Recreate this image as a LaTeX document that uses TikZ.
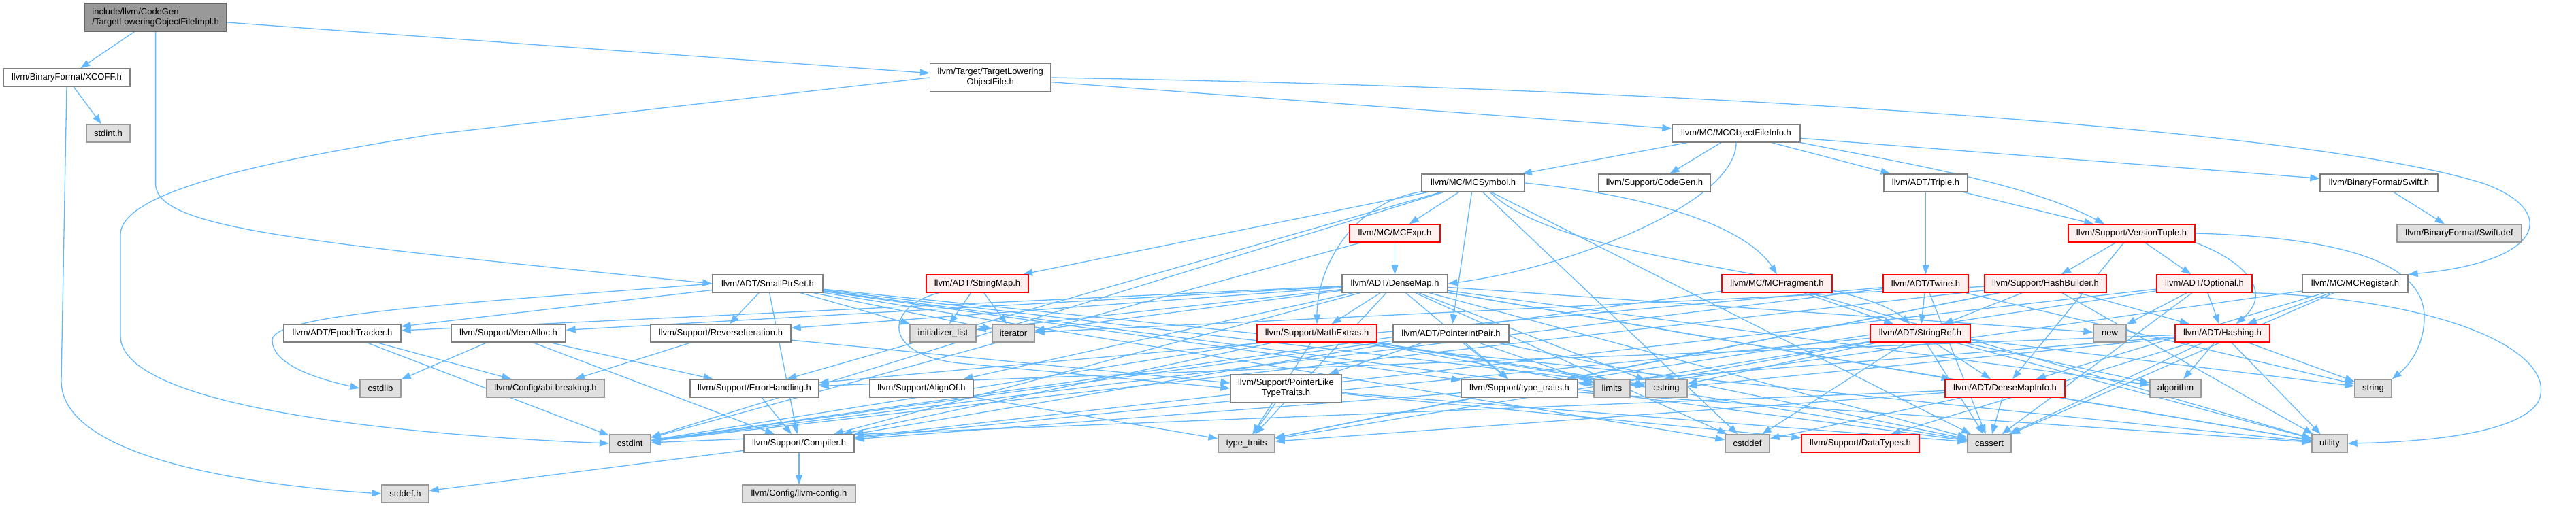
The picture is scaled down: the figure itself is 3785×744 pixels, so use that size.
\documentclass[tikz,border=0pt]{standalone}
\usepackage{fontspec}
\setmainfont{Liberation Sans}
\usetikzlibrary{arrows.meta}
\definecolor{edgec}{HTML}{63B8FF}
\definecolor{wbord}{HTML}{808080}
\definecolor{rbord}{HTML}{FF0000}
\definecolor{rfill}{HTML}{FFF0F0}
\definecolor{gbord}{HTML}{999999}
\definecolor{gfill}{HTML}{E0E0E0}
\definecolor{tbord}{HTML}{666666}
\definecolor{tfill}{HTML}{999999}
\pgfdeclarelayer{bg}
\pgfsetlayers{bg,main}
\begin{document}
\begin{tikzpicture}[x=1pt,y=-1pt,
  box/.style={draw, line width=1.3pt, minimum height=26pt, inner sep=1pt, font=\fontsize{13}{15}\selectfont, text=black},
  wn/.style={box, draw=wbord, fill=white},
  rn/.style={box, draw=rbord, fill=rfill},
  gn/.style={box, draw=gbord, fill=gfill},
  tn/.style={box, draw=tbord, fill=tfill},
  e/.style={draw=edgec, line width=1.3pt, -{Triangle[length=14pt,width=10pt]}}]
\useasboundingbox (0,0) rectangle (3785,744);
% row 0
\node[tn, minimum width=208pt, minimum height=41pt, align=left] (top) at (228.6,25.5) {include/llvm/CodeGen\\/TargetLoweringObjectFileImpl.h};
% row 1
\node[wn, minimum width=186pt] (xcoff) at (98,114) {llvm/BinaryFormat/XCOFF.h};
\node[wn, minimum width=177.5pt, minimum height=41pt, align=center] (tlof) at (1455.25,114) {llvm/Target/TargetLowering\\ObjectFile.h};
% row 2
\node[gn, minimum width=64pt] (stdint) at (159,196) {stdint.h};
\node[wn, minimum width=188pt] (mcofi) at (2551,196) {llvm/MC/MCObjectFileInfo.h};
% row 3
\node[wn, minimum width=151pt] (mcsymbol) at (2164.5,269) {llvm/MC/MCSymbol.h};
\node[wn, minimum width=165pt] (codegen) at (2431,269) {llvm/Support/CodeGen.h};
\node[wn, minimum width=123pt] (triple) at (2829.5,269) {llvm/ADT/Triple.h};
\node[wn, minimum width=173pt] (swifth) at (3495.5,269) {llvm/BinaryFormat/Swift.h};
% row 4
\node[rn, minimum width=133pt] (mcexpr) at (2049.5,343) {llvm/MC/MCExpr.h};
\node[rn, minimum width=186pt] (versiontuple) at (3132,343) {llvm/Support/VersionTuple.h};
\node[gn, minimum width=183pt] (swiftdef) at (3613.5,343) {llvm/BinaryFormat/Swift.def};
% row 5
\node[wn, minimum width=162pt] (smallptrset) at (1128,417) {llvm/ADT/SmallPtrSet.h};
\node[rn, minimum width=150pt] (stringmap) at (1436,417) {llvm/ADT/StringMap.h};
\node[wn, minimum width=155pt] (densemap) at (2049.5,417) {llvm/ADT/DenseMap.h};
\node[rn, minimum width=162pt] (mcfragment) at (2611,417) {llvm/MC/MCFragment.h};
\node[rn, minimum width=125pt] (twine) at (2829.5,417) {llvm/ADT/Twine.h};
\node[rn, minimum width=179pt] (hashbuilder) at (3005.5,417) {llvm/Support/HashBuilder.h};
\node[rn, minimum width=140pt] (optional) at (3239,417) {llvm/ADT/Optional.h};
\node[wn, minimum width=155pt] (mcregister) at (3460.5,417) {llvm/MC/MCRegister.h};
% row 6
\node[wn, minimum width=172pt] (epoch) at (503,490) {llvm/ADT/EpochTracker.h};
\node[wn, minimum width=168pt] (memalloc) at (747,490) {llvm/Support/MemAlloc.h};
\node[wn, minimum width=206pt] (reverseit) at (1059,490) {llvm/Support/ReverseIteration.h};
\node[gn, minimum width=97pt] (initlist) at (1385.5,490) {initializer\_list};
\node[gn, minimum width=62pt] (iterator) at (1489,490) {iterator};
\node[rn, minimum width=176pt] (mathextras) at (1935,490) {llvm/Support/MathExtras.h};
\node[wn, minimum width=170pt] (pointerintpair) at (2132,490) {llvm/ADT/PointerIntPair.h};
\node[rn, minimum width=147pt] (stringref) at (2821.5,490) {llvm/ADT/StringRef.h};
\node[gn, minimum width=48pt] (new) at (3100,490) {new};
\node[rn, minimum width=139pt] (hashing) at (3265.5,490) {llvm/ADT/Hashing.h};
% row 7
\node[gn, minimum width=60pt] (cstdlib) at (559,571) {cstdlib};
\node[gn, minimum width=173pt] (abibreaking) at (801.5,571) {llvm/Config/abi-breaking.h};
\node[wn, minimum width=189pt] (errorhandling) at (1108.5,571) {llvm/Support/ErrorHandling.h};
\node[wn, minimum width=152pt] (alignof) at (1354,571) {llvm/Support/AlignOf.h};
\node[wn, minimum width=163pt, minimum height=41pt, align=center] (pointerlike) at (1889.5,571) {llvm/Support/PointerLike\\TypeTraits.h};
\node[wn, minimum width=171pt] (lltypetraits) at (2232.5,571) {llvm/Support/type\_traits.h};
\node[gn, minimum width=53pt] (limits) at (2368.5,571) {limits};
\node[gn, minimum width=61pt] (cstring) at (2448.5,571) {cstring};
\node[rn, minimum width=176pt] (densemapinfo) at (2946,571) {llvm/ADT/DenseMapInfo.h};
\node[gn, minimum width=75pt] (algorithm) at (3196.5,571) {algorithm};
\node[gn, minimum width=54pt] (string) at (3487,571) {string};
% row 8
\node[gn, minimum width=60.5pt] (cstdint) at (925.75,652) {cstdint};
\node[wn, minimum width=162pt] (compiler) at (1174,652) {llvm/Support/Compiler.h};
\node[gn, minimum width=83pt] (typetraits) at (1831.5,652) {type\_traits};
\node[gn, minimum width=65pt] (cstddef) at (2567.5,652) {cstddef};
\node[rn, minimum width=173pt] (datatypes) at (2733.5,652) {llvm/Support/DataTypes.h};
\node[gn, minimum width=64pt] (cassert) at (2923,652) {cassert};
\node[gn, minimum width=52pt] (utility) at (3423,652) {utility};
% row 9
\node[gn, minimum width=69pt] (stddef) at (595.5,726) {stddef.h};
\node[gn, minimum width=166pt] (llvmconfig) at (1174,726) {llvm/Config/llvm-config.h};

\begin{pgfonlayer}{bg}
% top
\draw[e] (top) -- (xcoff);
\draw[e] (top) -- (tlof);
\draw[e] (top.south) -- (228.6,270) .. controls (228.6,335) and (430,355) .. (smallptrset.west);
% XCOFF
\draw[e] (xcoff) -- (stdint);
\draw[e] (xcoff.south) -- (90,560) .. controls (90,670) and (350,712) .. (stddef.west);
% TLOF
\draw[e] (tlof) -- (mcofi);
\draw[e] (tlof.west) -- (640,197) .. controls (400,235) and (177,280) .. (177,345) -- (177,494) .. controls (177,600) and (600,640) .. (cstdint.west);
\draw[e] (tlof.east) .. controls (2500,130) and (3400,190) .. (3650,270) .. controls (3760,310) and (3740,385) .. (mcregister.north east);
% MCObjectFileInfo
\foreach \t in {mcsymbol,codegen,triple,swifth} \draw[e] (mcofi) -- (\t);
\draw[e] (mcofi.south east) .. controls (2800,240) and (2980,270) .. ([xshift=-40pt]versiontuple.north);
\draw[e] (mcofi.south) .. controls (2551,300) and (2300,395) .. (densemap.east);
\draw[e] (swifth) -- (swiftdef);
% MCSymbol
\foreach \t in {mcexpr,pointerintpair,stringmap,errorhandling,cassert,cstddef,cstdint} \draw[e] (mcsymbol) -- (\t);
\draw[e] (mcsymbol.east) .. controls (2450,290) and (2570,340) .. (mcfragment.north);
\draw[e] ([xshift=25pt]mcsymbol.south) .. controls (2300,390) and (2720,400) .. ([xshift=-15pt]stringref.north);
\draw[e] (mcsymbol) .. controls (1980,300) and (1935,400) .. (mathextras.north);
% MCExpr
\foreach \t in {densemap,cstdint} \draw[e] (mcexpr) -- (\t);
% Triple
\foreach \t in {twine,versiontuple} \draw[e] (triple) -- (\t);
% VersionTuple
\foreach \t in {densemapinfo,optional,hashbuilder} \draw[e] (versiontuple) -- (\t);
\draw[e] (versiontuple.south east) .. controls (3300,385) and (3340,430) .. ([xshift=20pt]hashing.north);
\draw[e] (versiontuple.east) .. controls (3480,350) and (3565,400) .. (3562,470) .. controls (3560,520) and (3530,545) .. (string.north east);
% DenseMap
\foreach \t in {densemapinfo,epoch,alignof,compiler,mathextras,memalloc,reverseit,lltypetraits,algorithm,cassert,cstddef,cstring,initlist,iterator,new,typetraits,utility} \draw[e] (densemap) -- (\t);
% SmallPtrSet
\foreach \t in {epoch,compiler,reverseit,lltypetraits,cassert,cstddef,cstring,initlist,iterator,utility} \draw[e] (smallptrset) -- (\t);
\draw[e] (smallptrset.west) .. controls (700,445) and (400,460) .. (400,500) .. controls (400,540) and (480,560) .. (cstdlib.west);
% StringMap
\foreach \t in {initlist,iterator} \draw[e] (stringmap) -- (\t);
\draw[e] (stringmap) .. controls (1300,450) and (1290,525) .. (1420,535) -- (pointerlike.west);
% MCFragment
\foreach \t in {stringref,cstdint,utility} \draw[e] (mcfragment) -- (\t);
% Twine
\foreach \t in {stringref,errorhandling,cassert,cstdint,string} \draw[e] (twine) -- (\t);
% HashBuilder
\foreach \t in {stringref,hashing,lltypetraits,iterator,cstdint,typetraits,utility} \draw[e] (hashbuilder) -- (\t);
% Optional
\foreach \t in {hashing,compiler,lltypetraits,cassert,new} \draw[e] (optional) -- (\t);
\draw[e] (optional.south east) .. controls (3600,440) and (3760,520) .. (3730,590) .. controls (3700,640) and (3550,650) .. (utility.east);
% MCRegister
\foreach \t in {densemapinfo,hashing,cassert,limits} \draw[e] (mcregister) -- (\t);
% row 6 sources
\foreach \t in {abibreaking,cstdint} \draw[e] (epoch) -- (\t);
\foreach \t in {compiler,errorhandling,cstdlib} \draw[e] (memalloc) -- (\t);
\foreach \t in {abibreaking,pointerlike} \draw[e] (reverseit) -- (\t);
\foreach \t in {compiler,cassert,cstdint,cstring,limits,typetraits} \draw[e] (mathextras) -- (\t);
\foreach \t in {compiler,pointerlike,lltypetraits,cassert,cstdint,limits} \draw[e] (pointerintpair) -- (\t);
\foreach \t in {densemapinfo,compiler,algorithm,cassert,cstddef,cstring,limits,string,typetraits,utility} \draw[e] (stringref) -- (\t);
\foreach \t in {datatypes,errorhandling,lltypetraits,algorithm,cassert,cstring,string,utility} \draw[e] (hashing) -- (\t);
% row 7 sources
\draw[e] (errorhandling) -- (compiler);
\draw[e] (alignof) -- (typetraits);
\foreach \t in {datatypes,cassert,typetraits} \draw[e] (pointerlike) -- (\t);
\foreach \t in {compiler,typetraits,utility} \draw[e] (lltypetraits) -- (\t);
\foreach \t in {cassert,cstddef,cstdint,typetraits,utility} \draw[e] (densemapinfo) -- (\t);
% row 8 sources
\foreach \t in {llvmconfig,stddef} \draw[e] (compiler) -- (\t);
\end{pgfonlayer}
\end{tikzpicture}
\end{document}
